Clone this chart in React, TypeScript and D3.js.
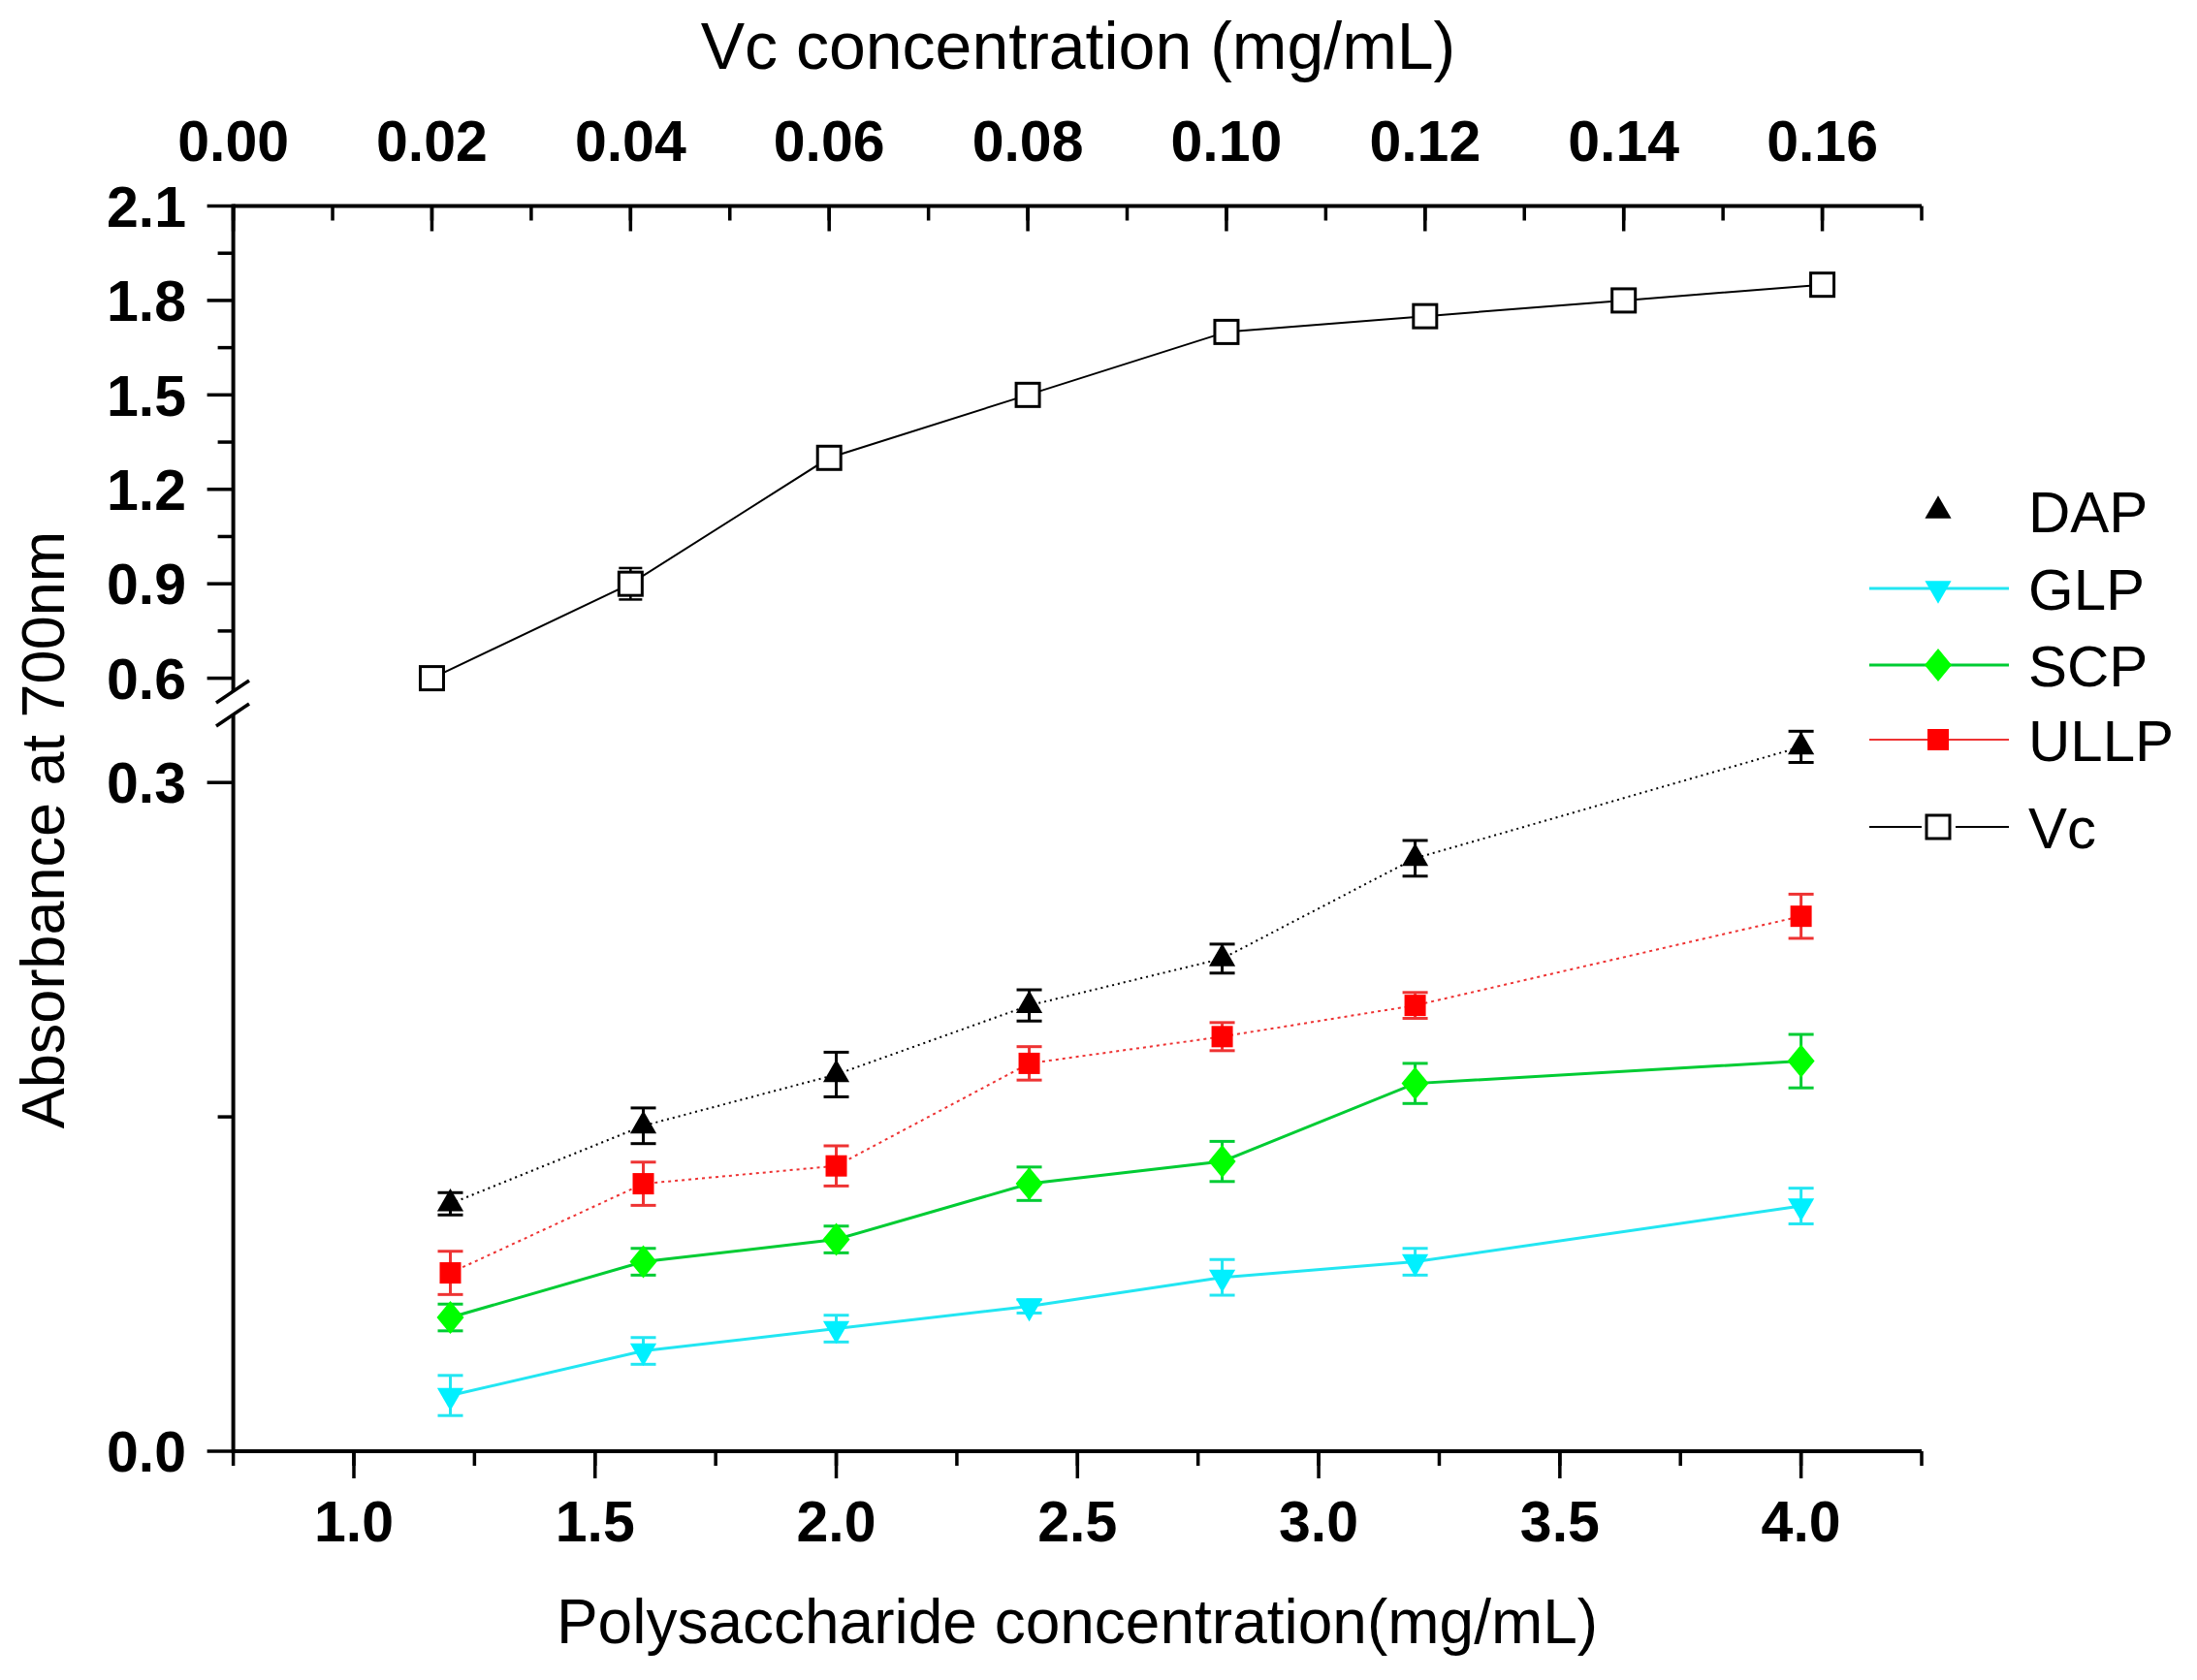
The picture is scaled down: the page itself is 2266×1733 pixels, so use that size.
import React, { useEffect } from 'react';
import * as d3 from 'd3';

// polysaccharide samples (bottom axis)
const polyConc = [1.2, 1.6, 2.0, 2.4, 2.8, 3.2, 4.0];
const dapVals = [0.111, 0.146, 0.169, 0.200, 0.221, 0.266, 0.316];
const dapErr = [0.005, 0.008, 0.010, 0.007, 0.0065, 0.008, 0.007];
const glpVals = [0.025, 0.045, 0.055, 0.065, 0.078, 0.085, 0.110];
const glpErr = [0.009, 0.006, 0.006, 0.003, 0.008, 0.006, 0.008];
const scpVals = [0.060, 0.085, 0.095, 0.120, 0.130, 0.165, 0.175];
const scpErr = [0.006, 0.006, 0.006, 0.0075, 0.009, 0.009, 0.012];
const ullpVals = [0.080, 0.120, 0.128, 0.174, 0.186, 0.200, 0.240];
const ullpErr = [0.0097, 0.0097, 0.009, 0.0075, 0.0063, 0.0058, 0.0099];

// Vc (top axis)
const vcConc = [0.02, 0.04, 0.06, 0.08, 0.10, 0.12, 0.14, 0.16];
const vcVals = [0.60, 0.90, 1.30, 1.50, 1.70, 1.75, 1.80, 1.85];
const vcErr = [0.02, 0.05, 0.02, 0.02, 0.02, 0.02, 0.02, 0.02];

const bottomTicks = [1.0, 1.5, 2.0, 2.5, 3.0, 3.5, 4.0];
const topTicks = [0, 0.02, 0.04, 0.06, 0.08, 0.10, 0.12, 0.14, 0.16];
const upperTicks = [0.6, 0.9, 1.2, 1.5, 1.8, 2.1];
const lowerTicks = [0.0, 0.3];

const W = 2266;
const H = 1733;
const left = 240.6;
const right = 1982;

const FONT = '"Liberation Sans", Arial, sans-serif';

const xBottom = d3.scaleLinear().domain([0.75, 4.25]).range([left, right]);
const xTop = d3.scaleLinear().domain([0, 0.17]).range([left, right]);
const yLow = d3.scaleLinear().domain([0, 0.3]).range([1497, 807.2]);
const yHigh = d3.scaleLinear().domain([0.6, 2.1]).range([699.6, 212.5]);

type Series = {
  name: string;
  vals: number[];
  err: number[];
  line: string;
  fill: string;
  dash: string | null;
  width: number;
  shape: 'up' | 'down' | 'diamond' | 'square';
};

const series: Series[] = [
  { name: 'GLP', vals: glpVals, err: glpErr, line: '#22e6f2', fill: '#00f0ff', dash: null, width: 3, shape: 'down' },
  { name: 'SCP', vals: scpVals, err: scpErr, line: '#00cc33', fill: '#00ff00', dash: null, width: 3, shape: 'diamond' },
  { name: 'ULLP', vals: ullpVals, err: ullpErr, line: '#ee3333', fill: '#ff0000', dash: '3,4', width: 2, shape: 'square' },
  { name: 'DAP', vals: dapVals, err: dapErr, line: '#000000', fill: '#000000', dash: '2,4', width: 2, shape: 'up' },
];

function Marker({ shape, x, y, fill }: { shape: string; x: number; y: number; fill: string }) {
  if (shape === 'square') {
    return <rect x={x - 11} y={y - 11} width={22} height={22} fill={fill} />;
  }
  if (shape === 'diamond') {
    const d = `M${x},${y - 17}L${x + 14},${y}L${x},${y + 17}L${x - 14},${y}Z`;
    return <path d={d} fill={fill} />;
  }
  const p = d3.symbol().type(d3.symbolTriangle).size(320)() || '';
  const rot = shape === 'down' ? 180 : 0;
  return <path d={p} transform={`translate(${x},${y}) rotate(${rot})`} fill={fill} />;
}

export default function App() {
  useEffect(() => {
    document.body.style.margin = '0';
  }, []);

  const line = d3
    .line<number>()
    .x((_, i) => xBottom(polyConc[i]))
    .y((d) => yLow(d));

  const vcLine = d3
    .line<number>()
    .x((_, i) => xTop(vcConc[i]))
    .y((d) => yHigh(d));

  const bottomMinor = d3.range(0.75, 4.26, 0.25);
  const topMinor = d3.range(0, 0.1701, 0.01);
  const upperMinor = d3.range(0.75, 2.1, 0.3);
  const lowerMinor = [0.15];

  const legendY = [527, 607, 686, 763, 853];
  const legendNames = ['DAP', 'GLP', 'SCP', 'ULLP', 'Vc'];
  const legendMarkerX = 1999;

  const tickFont = { fontFamily: FONT, fontWeight: 700, fontSize: 59 };

  return (
    <svg width={W} height={H} style={{ position: 'absolute', left: 0, top: 0, background: '#fff' }}>
      {/* axis lines */}
      <g stroke="#000" strokeWidth={4} fill="none">
        <line x1={left} x2={right} y1={yHigh(2.1)} y2={yHigh(2.1)} />
        <line x1={left} x2={right} y1={yLow(0)} y2={yLow(0)} />
        <line x1={left} x2={left} y1={yHigh(2.1) - 2} y2={713} />
        <line x1={left} x2={left} y1={738} y2={yLow(0) + 2} />
        {/* break marks */}
        <line x1={223} y1={725} x2={257} y2={702} strokeWidth={3.5} />
        <line x1={223} y1={749} x2={257} y2={726} strokeWidth={3.5} />
      </g>

      {/* ticks */}
      <g stroke="#000" strokeWidth={3.5}>
        {bottomMinor.map((t) => (
          <line key={'bm' + t} x1={xBottom(t)} x2={xBottom(t)} y1={yLow(0)} y2={yLow(0) + 15} />
        ))}
        {bottomTicks.map((t) => (
          <line key={'bt' + t} x1={xBottom(t)} x2={xBottom(t)} y1={yLow(0)} y2={yLow(0) + 28} />
        ))}
        {topMinor.map((t) => (
          <line key={'tm' + t} x1={xTop(t)} x2={xTop(t)} y1={yHigh(2.1)} y2={yHigh(2.1) + 15} />
        ))}
        {topTicks.map((t) => (
          <line key={'tt' + t} x1={xTop(t)} x2={xTop(t)} y1={yHigh(2.1)} y2={yHigh(2.1) + 26} />
        ))}
        {upperMinor.map((t) => (
          <line key={'um' + t} x1={left - 16} x2={left} y1={yHigh(t)} y2={yHigh(t)} />
        ))}
        {upperTicks.map((t) => (
          <line key={'ut' + t} x1={left - 27} x2={left} y1={yHigh(t)} y2={yHigh(t)} />
        ))}
        {lowerMinor.map((t) => (
          <line key={'lm' + t} x1={left - 16} x2={left} y1={yLow(t)} y2={yLow(t)} />
        ))}
        {lowerTicks.map((t) => (
          <line key={'lt' + t} x1={left - 27} x2={left} y1={yLow(t)} y2={yLow(t)} />
        ))}
      </g>

      {/* tick labels */}
      <g {...tickFont} fill="#000">
        {bottomTicks.map((t) => (
          <text key={'bl' + t} x={xBottom(t)} y={1590} textAnchor="middle">
            {t.toFixed(1)}
          </text>
        ))}
        {topTicks.map((t) => (
          <text key={'tl' + t} x={xTop(t)} y={166} textAnchor="middle">
            {t.toFixed(2)}
          </text>
        ))}
        {upperTicks.map((t) => (
          <text key={'ul' + t} x={192} y={yHigh(t)} dy="0.36em" textAnchor="end">
            {t.toFixed(1)}
          </text>
        ))}
        {lowerTicks.map((t) => (
          <text key={'ll' + t} x={192} y={yLow(t)} dy="0.36em" textAnchor="end">
            {t.toFixed(1)}
          </text>
        ))}
      </g>

      {/* axis titles */}
      <g fontFamily={FONT} fill="#000">
        <text x={1112} y={71} fontSize={68} textAnchor="middle">
          Vc concentration (mg/mL)
        </text>
        <text x={1111} y={1695} fontSize={64} textAnchor="middle">
          Polysaccharide concentration(mg/mL)
        </text>
        <text transform="translate(66,856) rotate(-90)" fontSize={63} textAnchor="middle">
          Absorbance at 700nm
        </text>
      </g>

      {/* Vc series */}
      <path d={vcLine(vcVals) || ''} fill="none" stroke="#000" strokeWidth={2} />
      {vcVals.map((v, i) => {
        const x = xTop(vcConc[i]);
        return (
          <g key={'vc' + i} stroke="#000" strokeWidth={2.5}>
            <line x1={x} x2={x} y1={yHigh(v + vcErr[i])} y2={yHigh(v - vcErr[i])} />
            <line x1={x - 12} x2={x + 12} y1={yHigh(v + vcErr[i])} y2={yHigh(v + vcErr[i])} />
            <line x1={x - 12} x2={x + 12} y1={yHigh(v - vcErr[i])} y2={yHigh(v - vcErr[i])} />
            <rect x={x - 12} y={yHigh(v) - 12} width={24} height={24} fill="#fff" strokeWidth={3} />
          </g>
        );
      })}

      {/* polysaccharide series */}
      {series.map((s) => (
        <g key={s.name}>
          <path
            d={line(s.vals) || ''}
            fill="none"
            stroke={s.line}
            strokeWidth={s.width}
            strokeDasharray={s.dash || undefined}
          />
          {s.vals.map((v, i) => {
            const x = xBottom(polyConc[i]);
            const y1 = yLow(v + s.err[i]);
            const y2 = yLow(v - s.err[i]);
            return (
              <g key={i}>
                <g stroke={s.line} strokeWidth={3}>
                  <line x1={x} x2={x} y1={y1} y2={y2} />
                  <line x1={x - 13} x2={x + 13} y1={y1} y2={y1} />
                  <line x1={x - 13} x2={x + 13} y1={y2} y2={y2} />
                </g>
                <Marker shape={s.shape} x={x} y={yLow(v)} fill={s.fill} />
              </g>
            );
          })}
        </g>
      ))}

      {/* legend */}
      <g>
        <Marker shape="up" x={legendMarkerX} y={legendY[0]} fill="#000" />
        <line x1={1928} x2={2072} y1={legendY[1]} y2={legendY[1]} stroke="#22e6f2" strokeWidth={3} />
        <Marker shape="down" x={legendMarkerX} y={legendY[1]} fill="#00f0ff" />
        <line x1={1928} x2={2072} y1={legendY[2]} y2={legendY[2]} stroke="#00cc33" strokeWidth={3} />
        <Marker shape="diamond" x={legendMarkerX} y={legendY[2]} fill="#00ff00" />
        <line x1={1928} x2={2072} y1={legendY[3]} y2={legendY[3]} stroke="#ee3333" strokeWidth={2} />
        <Marker shape="square" x={legendMarkerX} y={legendY[3]} fill="#ff0000" />
        <line x1={1928} x2={1982} y1={legendY[4]} y2={legendY[4]} stroke="#000" strokeWidth={2} />
        <line x1={2017} x2={2072} y1={legendY[4]} y2={legendY[4]} stroke="#000" strokeWidth={2} />
        <rect x={legendMarkerX - 12} y={legendY[4] - 12} width={24} height={24} fill="#fff" stroke="#000" strokeWidth={3} />
        {legendNames.map((n, i) => (
          <text key={n} x={2092} y={legendY[i]} dy="0.36em" fontFamily={FONT} fontSize={60} fill="#000">
            {n}
          </text>
        ))}
      </g>
    </svg>
  );
}
